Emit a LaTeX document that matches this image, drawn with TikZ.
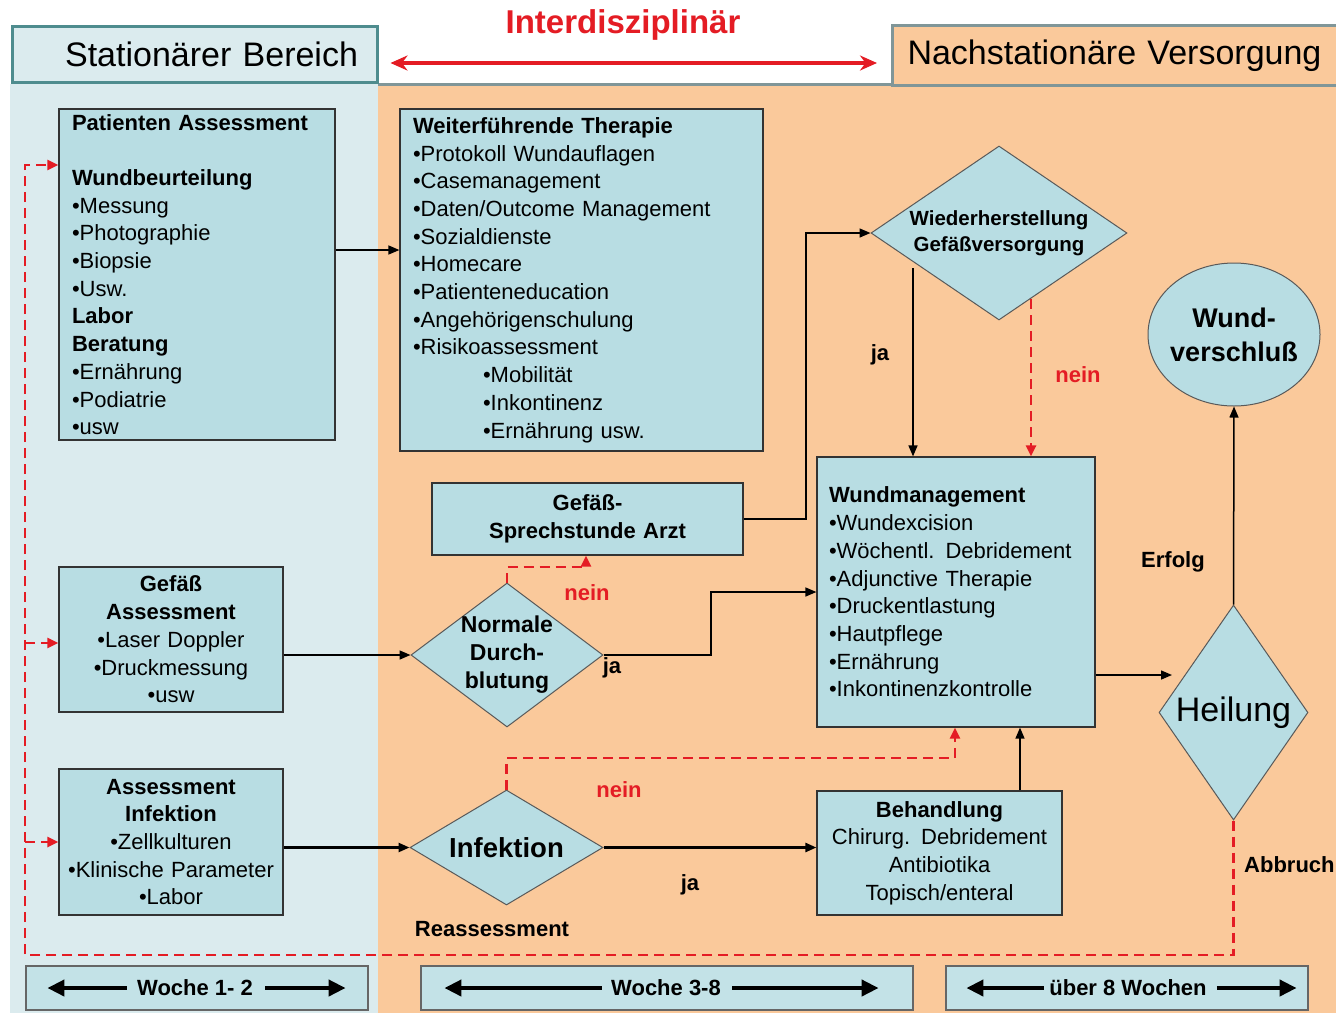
\documentclass[tikz,border=0pt]{standalone}
\usepackage{fontspec}
\setmainfont{Liberation Sans}
\usetikzlibrary{arrows.meta,shapes.geometric,calc}

\definecolor{boxblue}{RGB}{184,221,227}
\definecolor{leftbg}{RGB}{219,235,238}
\definecolor{rightbg}{RGB}{250,201,155}
\definecolor{tealline}{RGB}{78,140,142}
\definecolor{grayline}{RGB}{128,150,152}
\definecolor{flowred}{RGB}{228,28,36}

\newcommand{\bodyfont}{\fontsize{22}{27.7}\selectfont}
\newcommand{\labfont}{\fontsize{22}{26}\selectfont\bfseries}

\tikzset{
  box/.style={draw=black!80, line width=1.2pt, fill=boxblue, inner sep=0pt, font=\bodyfont},
  dia/.style={diamond, draw=black!65, line width=1pt, fill=boxblue, inner sep=0pt},
  con/.style={draw=black, line width=1.5pt, -{Triangle[length=11pt,width=9pt]}},
  thickcon/.style={con, line width=2.4pt},
  nein/.style={draw=flowred, line width=2.6pt, dash pattern=on 10pt off 6pt},
  neinarrow/.style={nein, -{Triangle[length=11pt,width=10pt]}},
  lab/.style={font=\labfont, inner sep=0pt},
  redlab/.style={lab, text=flowred},
  weekbox/.style={draw=black!60, line width=1.2pt, fill=boxblue!85!white, minimum height=44pt, inner sep=0pt},
  weekarrow/.style={line width=4pt, -{Triangle[length=17pt,width=16pt]}},
}

\begin{document}
\begin{tikzpicture}[x=1pt,y=-1pt]
  \useasboundingbox (0,0) rectangle (1336,1013);

  %%% backgrounds
  \fill[white] (0,0) rectangle (1336,1013);
  \fill[leftbg] (10,84) rectangle (378,1013);
  \fill[rightbg] (378,84) rectangle (1336,1013);
  \draw[grayline, line width=3pt] (378,84) -- (1336,84);

  %%% headers
  \node[draw=tealline, line width=3pt, fill=leftbg, minimum width=365pt, minimum height=56pt,
        text width=327pt, align=right, font=\fontsize{34}{40}\selectfont] (sta) at (194.5,54) {Stationärer Bereich};
  \node[draw=grayline, line width=3pt, fill=rightbg, anchor=north west, minimum height=60pt,
        inner xsep=15pt, text width=440pt, align=left, font=\fontsize{34}{40}\selectfont] (nach) at (891,24) {Nachstationäre Versorgung};
  \node[font=\fontsize{33}{38}\selectfont\bfseries, text=flowred] (inter) at (623,25) {Interdisziplinär};
  \coordinate (ia) at (0,63);
  \draw[flowred, line width=3.2pt, {Stealth[length=17pt,width=15pt]}-{Stealth[length=17pt,width=15pt]}]
    ($(sta.east |- ia)+(12,0)$) -- ($(nach.west |- ia)+(-14,0)$);

  %%% boxes
  \node[box, minimum width=276pt, minimum height=331pt, text width=250pt, align=left] (pat) at (197,274.5)
    {\textbf{Patienten Assessment}\\[27.7pt]
     \textbf{Wundbeurteilung}\\•Messung\\•Photographie\\•Biopsie\\•Usw.\\
     \textbf{Labor}\\\textbf{Beratung}\\•Ernährung\\•Podiatrie\\•usw};
  \node[box, minimum width=363pt, minimum height=342pt, text width=337pt, align=left] (wei) at (581.5,280)
    {\textbf{Weiterführende Therapie}\\•Protokoll Wundauflagen\\•Casemanagement\\•Daten/Outcome  Management\\
     •Sozialdienste\\•Homecare\\•Patienteneducation\\•Angehörigenschulung\\•Risikoassessment\\
     \hspace*{70pt}•Mobilität\\\hspace*{70pt}•Inkontinenz\\\hspace*{70pt}•Ernährung  usw.};
  \node[box, minimum width=311pt, minimum height=72pt, text width=300pt, align=center, font=\bodyfont\bfseries] (spr) at (587.5,519)
    {Gefäß-\\Sprechstunde Arzt};
  \node[box, minimum width=224pt, minimum height=145pt, text width=220pt, align=center] (gef) at (171,639.5)
    {\textbf{Gefäß}\\\textbf{Assessment}\\•Laser Doppler\\•Druckmessung\\•usw};
  \node[box, minimum width=224pt, minimum height=146pt, text width=222pt, align=center] (ass) at (171,842)
    {\textbf{Assessment}\\\textbf{Infektion}\\•Zellkulturen\\•Klinische Parameter\\•Labor};
  \node[box, minimum width=278pt, minimum height=270pt, text width=254pt, align=left] (wund) at (956,592)
    {\textbf{Wundmanagement}\\•Wundexcision\\•Wöchentl.  Debridement\\•Adjunctive  Therapie\\
     •Druckentlastung\\•Hautpflege\\•Ernährung\\•Inkontinenzkontrolle};
  \node[box, minimum width=245pt, minimum height=124pt, text width=240pt, align=center] (beh) at (939.5,853)
    {\textbf{Behandlung}\\Chirurg. Debridement\\Antibiotika\\Topisch/enteral};

  %%% decisions
  \node[dia, minimum width=256pt, minimum height=174pt,
        label={[font=\fontsize{20.5}{26}\selectfont\bfseries, align=center]center:Wiederherstellung\\Gefäßversorgung}] (wie) at (999,233) {};
  \node[dia, minimum width=192pt, minimum height=144pt,
        label={[font=\fontsize{23}{28}\selectfont\bfseries, align=center]center:Normale\\Durch-\\blutung}] (nor) at (507,655) {};
  \node[dia, minimum width=193pt, minimum height=115pt,
        label={[font=\fontsize{27.5}{32}\selectfont\bfseries]center:Infektion}] (inf) at (506.5,847.5) {};
  \node[dia, minimum width=149pt, minimum height=215pt,
        label={[font=\fontsize{34}{40}\selectfont]center:Heilung}] (hei) at (1233.5,712.5) {};
  \node[ellipse, draw=black!65, line width=1pt, fill=boxblue, inner sep=0pt, minimum width=172pt, minimum height=143pt,
        label={[font=\fontsize{27}{34}\selectfont\bfseries, align=center]center:Wund-\\verschluß}] (ell) at (1234,334.5) {};

  %%% connectors
  \coordinate (kp) at (0,250);
  \draw[con] (pat.east |- kp) -- (wei.west |- kp);
  \draw[con] (gef.east |- nor.west) -- (nor.west);
  \draw[thickcon] (ass.east |- inf.west) -- (inf.west);
  \coordinate (k1) at (711,592);
  \draw[con] (nor.east) -| (k1) -- (k1 -| wund.west);
  \coordinate (k2) at (586,567);
  \draw[neinarrow] (nor.north) |- (k2) -- (k2 |- spr.south);
  \coordinate (k3) at (806,0);
  \draw[con] (spr.east) -- (spr.east -| k3) |- (wie.west);
  \coordinate (ja1) at (913,268);
  \draw[con] (ja1) -- (ja1 |- wund.north);
  \coordinate (ne1) at (1031,299);
  \draw[neinarrow] (ne1) -- (ne1 |- wund.north);
  \coordinate (k5) at (1172,675);
  \draw[con] (wund.east |- k5) -- (k5);
  \draw[con] (hei.north) -- (ell.south);
  \coordinate (k6) at (955,758);
  \draw[neinarrow] (inf.north) |- (k6) -- (k6 |- wund.south);
  \draw[thickcon] (inf.east) -- (inf.east -| beh.west);
  \coordinate (k7) at (1020,0);
  \draw[con] (beh.north -| k7) -- (wund.south -| k7);

  %%% reassessment loop
  \coordinate (lb) at (25,955);
  \coordinate (lt) at (25,165);
  \coordinate (lg) at (25,643);
  \coordinate (li) at (25,842);
  \draw[neinarrow] (hei.south) |- (lb) -- (lt) -- (lt -| pat.west);
  \draw[neinarrow] (lg) -- (lg -| gef.west);
  \draw[neinarrow] (li) -- (li -| ass.west);

  %%% labels
  \node[lab] (ja-a) at (612,668) {ja};
  \node[redlab] (nein-a) at (587,593) {nein};
  \node[lab] (ja-b) at (880,355) {ja};
  \node[redlab] (nein-b) at (1078,375) {nein};
  \node[lab] (erfolg) at (1173,562) {Erfolg};
  \node[lab, anchor=west] (abbruch) at (1244,865) {Abbruch};
  \node[redlab] (nein-c) at (619,790) {nein};
  \node[lab] (ja-c) at (690,885) {ja};
  \node[lab] (reass) at (492,929) {Reassessment};

  %%% weeks
  \node[weekbox, minimum width=342pt] (w1) at (197,988) {};
  \node[weekbox, minimum width=492pt] (w2) at (667,988) {};
  \node[weekbox, minimum width=362pt] (w3) at (1127,988) {};
  \node[lab] (w1t) at (195,988) {Woche 1- 2};
  \node[lab] (w2t) at (666,988) {Woche 3-8};
  \node[lab] (w3t) at (1128,988) {über 8 Wochen};
  \draw[weekarrow] ($(w1t.west)+(-10,0)$) -- ($(w1.west)+(22,0)$);
  \draw[weekarrow] ($(w1t.east)+(12,0)$) -- ($(w1.east)+(-23,0)$);
  \draw[weekarrow] ($(w2t.west)+(-9,0)$) -- ($(w2.west)+(24,0)$);
  \draw[weekarrow] ($(w2t.east)+(11,0)$) -- ($(w2.east)+(-35,0)$);
  \draw[weekarrow] ($(w3t.west)+(-5,0)$) -- ($(w3.west)+(21,0)$);
  \draw[weekarrow] ($(w3t.east)+(10,0)$) -- ($(w3.east)+(-12,0)$);
\end{tikzpicture}
\end{document}
